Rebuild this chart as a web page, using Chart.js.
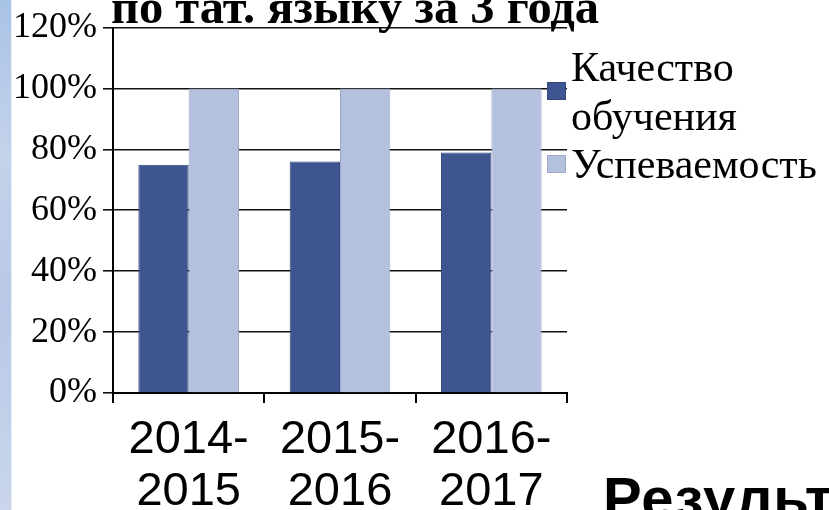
<!DOCTYPE html>
<html>
<head>
<meta charset="utf-8">
<script src="https://cdn.jsdelivr.net/npm/chart.js@4.4.1/dist/chart.umd.min.js"></script>
<style>
  html, body { margin: 0; padding: 0; background: #fff; }
  #wrap { position: relative; width: 829px; height: 510px; overflow: hidden; }
  #stripe {
    position: absolute; left: 0; top: 0; width: 11px; height: 510px;
    background: linear-gradient(180deg, #a9c3e6 0%, #c4d2ea 30%, #b8c8e6 60%, #c9d6ec 100%);
    border-right: 1px solid #e8eef8;
  }
  canvas { position: absolute; left: 0; top: 0; }
</style>
</head>
<body>
<div id="wrap">
  <canvas id="chart" width="829" height="510"></canvas>
  <div id="stripe"></div>
</div>
<script>
const title = "по тат. языку за 3 года";
const footer = "Результаты";
const categories = [["2014-", "2015"], ["2015-", "2016"], ["2016-", "2017"]];
const seriesNames = [["Качество", "обучения"], ["Успеваемость"]];
const quality = [75, 76, 79];
const success = [100, 100, 100];
const colors = ["#3e5591", "#b3c0de"];
const borders = ["#34497e", "#9ba8c6"];

const extras = {
  id: "extras",
  afterDraw(chart) {
    const ctx = chart.ctx;
    const area = chart.chartArea;
    ctx.save();
    // title (cut at the top, as on the slide)
    ctx.fillStyle = "#000";
    ctx.font = "bold 48.5px 'Liberation Serif'";
    ctx.textAlign = "left";
    ctx.textBaseline = "alphabetic";
    ctx.fillText(title, 111, 23);

    // legend
    ctx.font = "42px 'Liberation Serif'";
    const boxX = area.right - 20;
    const rows = [[82, [81, 130]], [155, [178]]];
    chart.data.datasets.forEach((ds, i) => {
      const [boxY, baselines] = rows[i];
      ctx.fillStyle = ds.backgroundColor;
      ctx.fillRect(boxX, boxY, 19, 18);
      ctx.strokeStyle = ds.borderColor;
      ctx.lineWidth = 1;
      ctx.strokeRect(boxX + 0.5, boxY + 0.5, 18, 17);
      ctx.fillStyle = "#000";
      seriesNames[i].forEach((line, j) => {
        ctx.fillText(line, area.right + 4, baselines[j]);
      });
    });

    // slide text under the chart, cut by the frame
    ctx.font = "bold 58px 'Liberation Sans'";
    ctx.letterSpacing = "1px";
    ctx.fillText(footer, 603, 518);
    ctx.restore();
  }
};

new Chart(document.getElementById("chart"), {
  type: "bar",
  data: {
    labels: categories,
    datasets: [
      {
        label: seriesNames[0].join(" "),
        data: quality,
        backgroundColor: colors[0],
        borderColor: borders[0],
        borderWidth: 1
      },
      {
        label: seriesNames[1].join(" "),
        data: success,
        backgroundColor: colors[1],
        borderColor: borders[1],
        borderWidth: 1
      }
    ]
  },
  options: {
    responsive: false,
    animation: false,
    layout: { padding: { top: 27, right: 262, left: 0, bottom: 0 } },
    datasets: { bar: { categoryPercentage: 0.665, barPercentage: 1 } },
    plugins: { legend: { display: false }, tooltip: { enabled: false } },
    scales: {
      x: {
        afterFit(scale) { scale.height = 117; },
        grid: { drawOnChartArea: false, drawTicks: true, tickLength: 10, color: "#000", lineWidth: 2 },
        border: { color: "#000", width: 2 },
        ticks: {
          color: "#000",
          padding: 11,
          maxRotation: 0,
          font: { family: "'Liberation Sans'", size: 47, lineHeight: 1.1 }
        }
      },
      y: {
        min: 0,
        max: 120,
        afterFit(scale) { scale.width = 113; },
        grid: { color: "#111", lineWidth: 1.6, tickLength: 10 },
        border: { color: "#000", width: 2 },
        ticks: {
          stepSize: 20,
          color: "#000",
          padding: 6,
          font: { family: "'Liberation Serif'", size: 36 },
          callback: (v) => v + "%"
        }
      }
    }
  },
  plugins: [extras]
});
</script>
</body>
</html>
